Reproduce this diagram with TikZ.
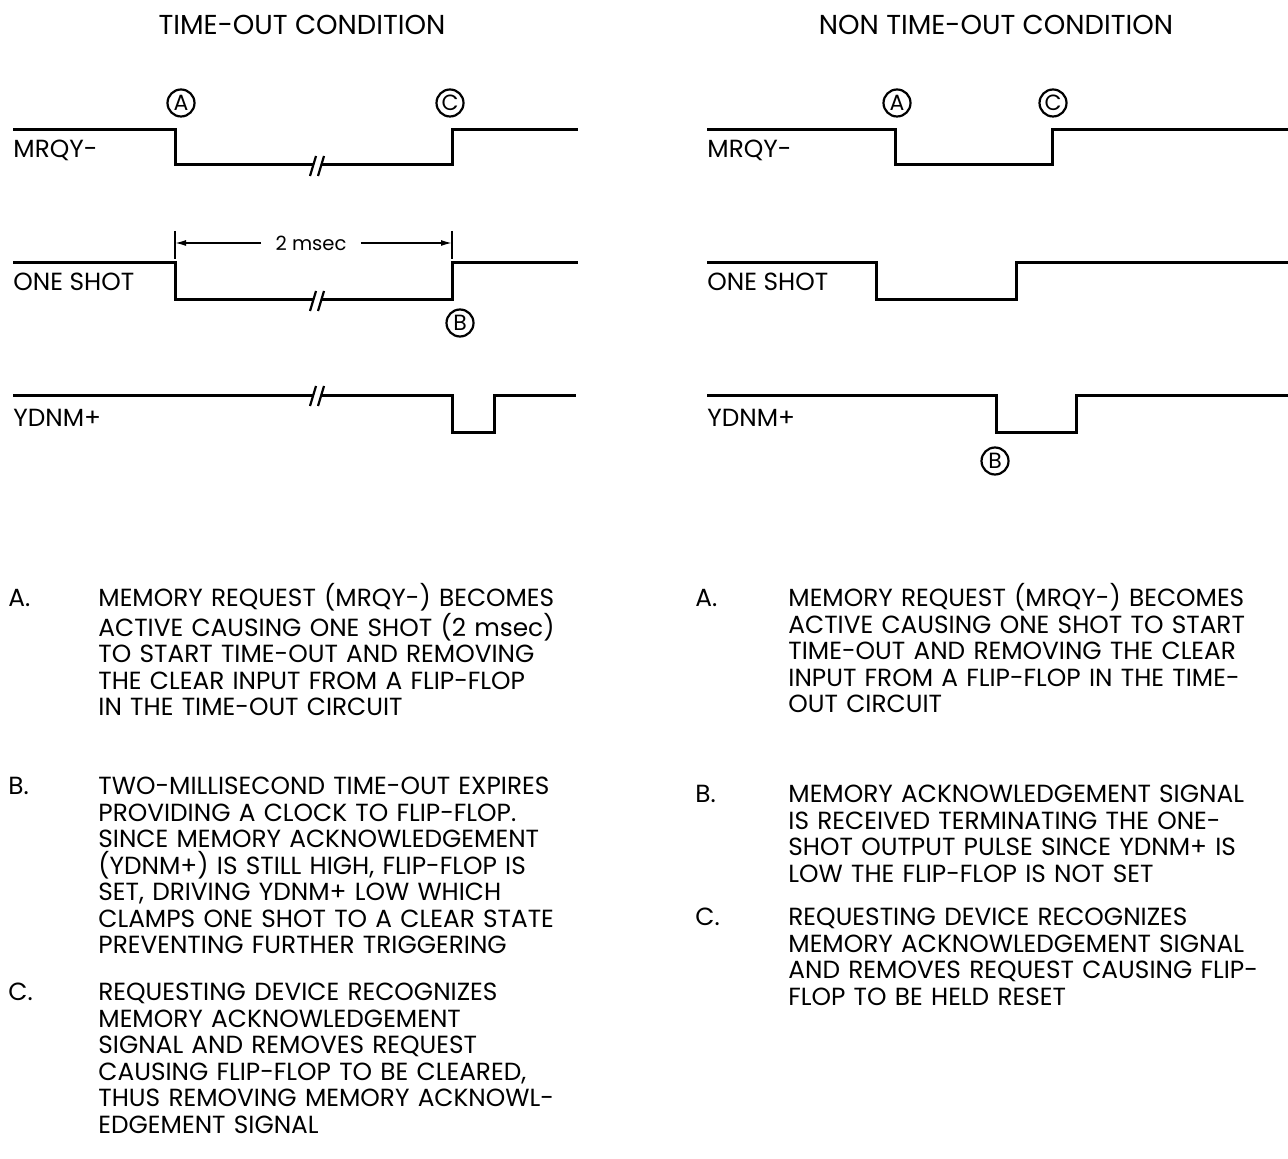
\documentclass[tikz,border=0pt]{standalone}
\usepackage{fontspec}
\setmainfont{Poppins}
\usetikzlibrary{arrows.meta}

\begin{document}
\begin{tikzpicture}[
  x=0.5pt,y=-0.5pt,
  font=\fontsize{12.4}{13.25}\selectfont,
  >={Latex[length=5.5pt,width=3pt]},
  wave/.style={line width=1.5pt,line join=miter},
  brk/.style={line width=1.1pt},
  dim/.style={line width=0.75pt},
  event/.style={circle,draw,line width=1.1pt,minimum size=13.5pt,inner sep=0pt,
                font=\fontsize{11}{11}\selectfont},
  sig/.style={anchor=base west,inner sep=0pt},
  item/.style={anchor=base west,inner sep=0pt},
  para/.style={anchor=base west,inner sep=0pt,align=left,text width=300pt},
  title/.style={inner sep=0pt,font=\fontsize{13.7}{14}\selectfont}
]
\useasboundingbox (0,0) rectangle (1288,1159);

% Titles
\node[title] (ttime) at (302,25) {TIME-OUT CONDITION};
\node[title] (tnon) at (996,25) {NON TIME-OUT CONDITION};

% Left: time-out waveforms
\node[sig] (lmrqy) at (13,158) {MRQY-};
\draw[wave] (13,130) -- (175,130) -- (175,165) -- (314,165);
\draw[wave] (322,165) -- (452,165) -- (452,130) -- (578,130);
\draw[brk] (310,176) -- (316,156);
\draw[brk] (318,176) -- (324,156);
\node[event] (timeA) at (181,103) {A};
\node[event] (timeC) at (450,103) {C};

\node[sig] (lshot) at (13,291) {ONE SHOT};
\draw[wave] (13,263) -- (175,263) -- (175,300) -- (314,300);
\draw[wave] (322,300) -- (452,300) -- (452,263) -- (578,263);
\draw[brk] (310,311) -- (316,291);
\draw[brk] (318,311) -- (324,291);
\node[event] (timeB) at (460,323) {B};

% 2 msec span
\draw[dim] (175,231) -- (175,259);
\draw[dim] (452,231) -- (452,259);
\coordinate (tickL) at (175,243);
\coordinate (tickR) at (452,243);
\node[inner xsep=7pt,inner ysep=0pt,font=\fontsize{9.8}{10}\selectfont] (msec) at (311,243) {2 msec};
\draw[dim,->] (msec) -- (tickL);
\draw[dim,->] (msec) -- (tickR);

\node[sig] (lydnm) at (13,427) {YDNM+};
\draw[wave] (13,396) -- (314,396);
\draw[wave] (322,396) -- (452,396) -- (452,433) -- (494,433) -- (494,396) -- (576,396);
\draw[brk] (310,406) -- (316,386);
\draw[brk] (318,406) -- (324,386);

% Right: non time-out waveforms
\node[sig] (rmrqy) at (707,158) {MRQY-};
\draw[wave] (707,130) -- (895,130) -- (895,165) -- (1052,165) -- (1052,130) -- (1288,130);
\node[event] (nonA) at (897,103) {A};
\node[event] (nonC) at (1053,103) {C};

\node[sig] (rshot) at (707,291) {ONE SHOT};
\draw[wave] (707,263) -- (876,263) -- (876,300) -- (1016,300) -- (1016,263) -- (1288,263);

\node[sig] (rydnm) at (707,427) {YDNM+};
\draw[wave] (707,396) -- (996,396) -- (996,433) -- (1076,433) -- (1076,396) -- (1288,396);
\node[event] (nonB) at (995,461) {B};

% Left notes
\node[item] (lA) at (8,606.5) {A.};
\node[para] (lAtext) at (98,606.5)
  {MEMORY REQUEST (MRQY-) BECOMES\\
   ACTIVE CAUSING ONE SHOT (2 msec)\\
   TO START TIME-OUT AND REMOVING\\
   THE CLEAR INPUT FROM A FLIP-FLOP\\
   IN THE TIME-OUT CIRCUIT};
\node[item] (lB) at (8,794.5) {B.};
\node[para] (lBtext) at (98,794.5)
  {TWO-MILLISECOND TIME-OUT EXPIRES\\
   PROVIDING A CLOCK TO FLIP-FLOP.\\
   SINCE MEMORY ACKNOWLEDGEMENT\\
   (YDNM+) IS STILL HIGH, FLIP-FLOP IS\\
   SET, DRIVING YDNM+ LOW WHICH\\
   CLAMPS ONE SHOT TO A CLEAR STATE\\
   PREVENTING FURTHER TRIGGERING};
\node[item] (lC) at (8,1000.5) {C.};
\node[para] (lCtext) at (98,1000.5)
  {REQUESTING DEVICE RECOGNIZES\\
   MEMORY ACKNOWLEDGEMENT\\
   SIGNAL AND REMOVES REQUEST\\
   CAUSING FLIP-FLOP TO BE CLEARED,\\
   THUS REMOVING MEMORY ACKNOWL-\\
   EDGEMENT SIGNAL};

% Right notes
\node[item] (rA) at (695,606.5) {A.};
\node[para] (rAtext) at (788,606.5)
  {MEMORY REQUEST (MRQY-) BECOMES\\
   ACTIVE CAUSING ONE SHOT TO START\\
   TIME-OUT AND REMOVING THE CLEAR\\
   INPUT FROM A FLIP-FLOP IN THE TIME-\\
   OUT CIRCUIT};
\node[item] (rB) at (695,802.5) {B.};
\node[para] (rBtext) at (788,802.5)
  {MEMORY ACKNOWLEDGEMENT SIGNAL\\
   IS RECEIVED TERMINATING THE ONE-\\
   SHOT OUTPUT PULSE SINCE YDNM+ IS\\
   LOW THE FLIP-FLOP IS NOT SET};
\node[item] (rC) at (695,925.5) {C.};
\node[para] (rCtext) at (788,925.5)
  {REQUESTING DEVICE RECOGNIZES\\
   MEMORY ACKNOWLEDGEMENT SIGNAL\\
   AND REMOVES REQUEST CAUSING FLIP-\\
   FLOP TO BE HELD RESET};

\end{tikzpicture}
\end{document}
